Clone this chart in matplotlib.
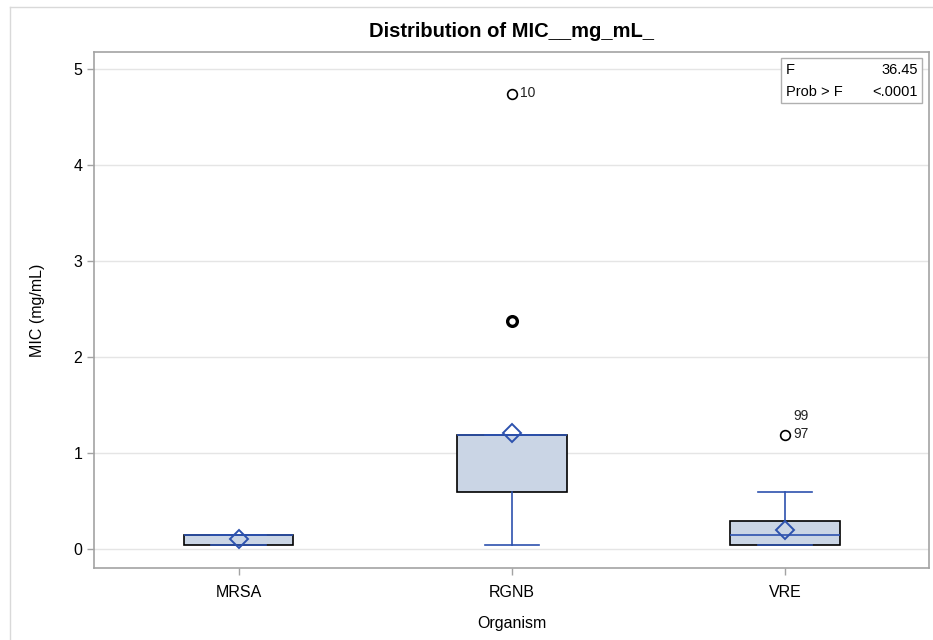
import matplotlib
matplotlib.use("Agg")
import matplotlib.pyplot as plt
from matplotlib.patches import Rectangle
from matplotlib.lines import Line2D

plt.rcParams['font.family'] = ['Liberation Sans', 'DejaVu Sans']

categories = ['MRSA', 'RGNB', 'VRE']
q1 = [0.046, 0.593, 0.046]
medians = [0.148, 1.185, 0.148]
q3 = [0.148, 1.185, 0.296]
whisker_low = [0.046, 0.046, 0.046]
whisker_high = [0.148, 1.185, 0.593]
means = [0.10, 1.21, 0.20]
outliers = [[], [2.37, 4.74], [1.185]]
bold_outliers = [[], [2.37], []]
outlier_labels = [('RGNB', 4.74, '10', 0), ('VRE', 1.185, '97', 0), ('VRE', 1.185, '99', 1)]
f_value = '36.45'
prob_f = '<.0001'

blue = '#2D52AE'
fill = '#CAD5E5'
grid = '#E5E5E5'
frame = '#A3A3A3'

fig = plt.figure(figsize=(9.33, 6.4), dpi=100)
ax = fig.add_axes([94/933, 1-568/640, 835/933, 516/640])

stats = []
for i, c in enumerate(categories):
    stats.append(dict(label=c, q1=q1[i], med=medians[i], q3=q3[i],
                      whislo=whisker_low[i], whishi=whisker_high[i],
                      mean=means[i], fliers=[o for o in outliers[i] if o not in bold_outliers[i]]))

pos = list(range(len(categories)))
ax.bxp(stats, positions=pos, widths=0.4, capwidths=0.2, patch_artist=True,
       showmeans=True, meanline=False,
       boxprops=dict(facecolor=fill, edgecolor='black', linewidth=1.2),
       whiskerprops=dict(color=blue, linewidth=1.2),
       capprops=dict(color=blue, linewidth=1.2),
       medianprops=dict(color=blue, linewidth=1.2),
       meanprops=dict(marker='D', markerfacecolor='none', markeredgecolor=blue,
                      markersize=9, markeredgewidth=1.4),
       flierprops=dict(marker='o', markerfacecolor='none', markeredgecolor='black',
                       markersize=7, markeredgewidth=1.2),
       zorder=3)

for i, vals in enumerate(bold_outliers):
    for v in vals:
        ax.plot(pos[i], v, marker='o', markerfacecolor='none', markeredgecolor='black',
                markersize=7, markeredgewidth=2.4, zorder=4)

for cat, v, lab, row in outlier_labels:
    x = categories.index(cat)
    ax.annotate(lab, (x, v), xytext=(6, 1 + row * 13), textcoords='offset points',
                ha='left', va='center', fontsize=10, color='#222222')

ax.set_xlim(-0.53, 2.527)
ax.set_ylim(-0.198, 5.177)
ax.set_yticks([0, 1, 2, 3, 4, 5])
ax.set_xticks(pos)
ax.set_xticklabels(categories)
ax.yaxis.grid(True, color=grid, linewidth=1)
ax.set_axisbelow(True)
for s in ax.spines.values():
    s.set_color(frame)
    s.set_linewidth(1.2)
ax.tick_params(axis='both', colors=frame, labelcolor='black', labelsize=11.5, length=5, width=1)
ax.tick_params(axis='x', pad=7)

ax.set_ylabel('MIC (mg/mL)', fontsize=11.5, labelpad=20)
ax.set_xlabel('Organism', fontsize=11.5, labelpad=12)
ax.set_title('Distribution of MIC__mg_mL_', fontsize=14.5, fontweight='bold', pad=11)

# F statistic inset
ax.add_patch(Rectangle((0.8228, 0.901), 0.1688, 0.087, transform=ax.transAxes,
                       facecolor='white', edgecolor='#B0B0B0', linewidth=1, zorder=5))
ax.text(0.829, 0.966, 'F', transform=ax.transAxes, fontsize=10.5, ha='left', va='center', zorder=6)
ax.text(0.987, 0.966, f_value, transform=ax.transAxes, fontsize=10.5, ha='right', va='center', zorder=6)
ax.text(0.829, 0.923, 'Prob > F', transform=ax.transAxes, fontsize=10.5, ha='left', va='center', zorder=6)
ax.text(0.987, 0.923, prob_f, transform=ax.transAxes, fontsize=10.5, ha='right', va='center', zorder=6)

# outer border lines
fig.add_artist(Line2D([10/933, 10/933], [0, 1-7/640], color='#D9D9D9', linewidth=1))
fig.add_artist(Line2D([10/933, 1], [1-7/640, 1-7/640], color='#D9D9D9', linewidth=1))

fig.savefig('out.png', dpi=100)
